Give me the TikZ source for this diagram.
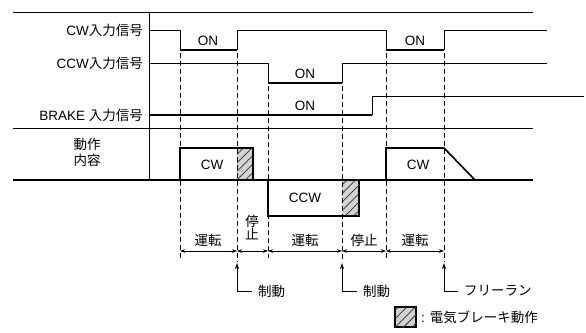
\documentclass[tikz,border=0pt]{standalone}
\usepackage{fontspec}
\setmainfont{Liberation Sans}
\newfontfamily\jp{Noto Sans CJK JP}
\usetikzlibrary{arrows.meta,patterns.meta}

\begin{document}
\begin{tikzpicture}[x=1pt,y=-1pt,
font=\fontsize{13.5}{15}\selectfont,
rotulo/.style={inner sep=2pt},
sinal/.style={line width=0.7pt},
ativo/.style={line width=1.6pt},
guia/.style={dash pattern=on 5pt off 3pt, line width=0.6pt},
cota/.style={{Stealth[length=5pt,width=3.5pt]}-{Stealth[length=5pt,width=3.5pt]}, line width=0.6pt},
seta/.style={-{Stealth[length=6pt,width=4pt]}, line width=0.7pt},
freio/.style={fill=gray!35, postaction={pattern={Lines[angle=45,distance=6pt,line width=0.8pt]}, pattern color=black!80}}
]
\useasboundingbox (0,0) rectangle (586,332);
% quadro
\draw[sinal] (13,12) -- (533,12);
\draw[sinal] (13,128) -- (533,128);
\draw[sinal] (149,12) -- (149,180);
\node[rotulo, anchor=east] (cw) at (145,30) {CW{\jp 入力信号}};
\node[rotulo, anchor=east] (ccw) at (145,63) {CCW{\jp 入力信号}};
\node[rotulo, anchor=east] (brake) at (145,115) {BRAKE {\jp 入力信号}};
\node[rotulo, align=center] (acao) at (87,152) {{\jp 動作}\\[1pt]{\jp 内容}};
% sinais de entrada
\draw[sinal] (149,30) -- (180,30) -- (180,50);
\draw[ativo] (180,50) -- (237,50);
\draw[sinal] (237,50) -- (237,30) -- (386,30) -- (386,50);
\draw[ativo] (386,50) -- (444,50);
\draw[sinal] (444,50) -- (444,30) -- (547,30);
\draw[sinal] (149,63) -- (268,63) -- (268,83);
\draw[ativo] (268,83) -- (342,83);
\draw[sinal] (342,83) -- (342,63) -- (547,63);
\draw[ativo] (149,115) -- (372,115);
\draw[sinal] (372,115) -- (372,96) -- (584,96);
\node[rotulo] (on1) at (208,41) {ON};
\node[rotulo] (on2) at (305,74) {ON};
\node[rotulo] (on3) at (305,106) {ON};
\node[rotulo] (on4) at (415,41) {ON};
% freio eletrico
\fill[freio] (237,148) rectangle (253,180);
\fill[freio] (342,180) rectangle (359,216);
% linhas guia
\foreach \x/\y/\z in {180/53/258, 237/53/262, 268/86/258, 342/86/262, 386/53/258, 444/53/262}
  \draw[guia] (\x,\y) -- (\x,\z);
% movimento
\draw[ativo] (13,180) -- (533,180);
\draw[ativo] (180,180) -- (180,148) -- (253,148) -- (253,180);
\draw[ativo] (268,180) -- (268,216) -- (359,216) -- (359,180);
\draw[ativo] (386,180) -- (386,148) -- (444,148) -- (475,180);
\node[rotulo] (mov1) at (212,165) {CW};
\node[rotulo] (mov2) at (305,198) {CCW};
\node[rotulo] (mov3) at (418,165) {CW};
% intervalos
\draw[cota] (180,251) -- (237,251);
\draw[cota] (237,251) -- (268,251);
\draw[cota] (268,251) -- (342,251);
\draw[cota] (342,251) -- (386,251);
\draw[cota] (386,251) -- (444,251);
\node[rotulo] (run1) at (208,240) {\jp 運転};
\node[rotulo, align=center] (stop1) at (252,228) {{\jp 停}\\[-2pt]{\jp 止}};
\node[rotulo] (run2) at (305,240) {\jp 運転};
\node[rotulo] (stop2) at (364,240) {\jp 停止};
\node[rotulo] (run3) at (415,240) {\jp 運転};
% eventos
\coordinate (ev1) at (237,263);
\coordinate (ev2) at (342,263);
\coordinate (ev3) at (444,263);
\node[rotulo, anchor=west] (frenagem1) at (256,291) {\jp 制動};
\node[rotulo, anchor=west] (frenagem2) at (361,291) {\jp 制動};
\node[rotulo, anchor=west] (livre) at (462,291) {\jp フリーラン};
\draw[seta] ([xshift=-4pt]frenagem1.west) -| (ev1);
\draw[seta] ([xshift=-4pt]frenagem2.west) -| (ev2);
\draw[seta] ([xshift=-4pt]livre.west) -| (ev3);
% legenda
\draw[freio, line width=1.4pt] (395,307) rectangle (416,327);
\node[rotulo, anchor=west] (legenda) at (419,317) {: {\jp 電気ブレーキ動作}};
\end{tikzpicture}
\end{document}
